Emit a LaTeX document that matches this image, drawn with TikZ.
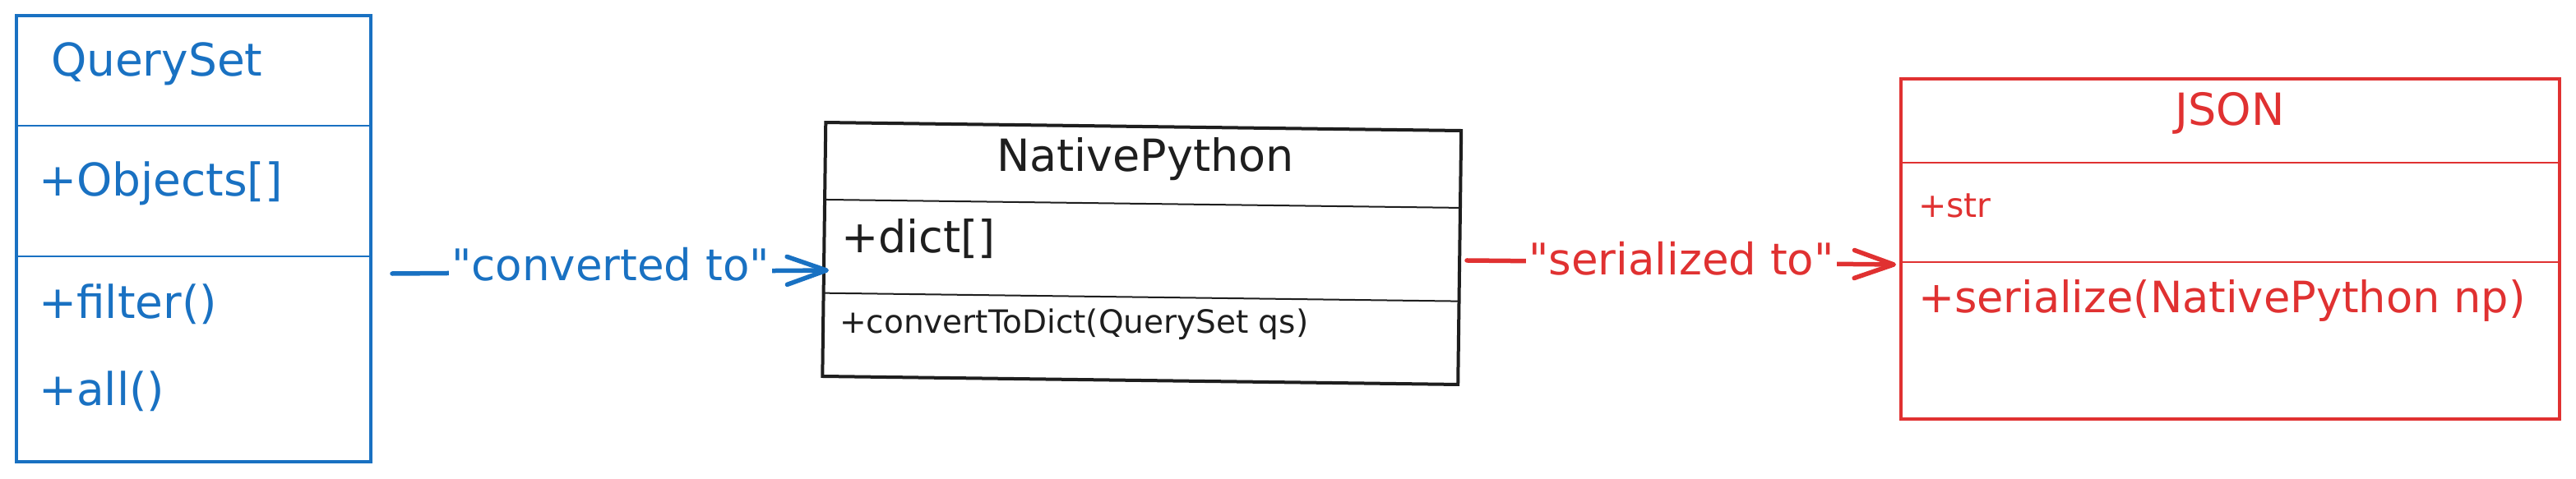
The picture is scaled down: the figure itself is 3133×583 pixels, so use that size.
\documentclass[tikz,border=0pt]{standalone}
\usepackage{fontspec}
\setmainfont{DejaVu Sans}[Ligatures=TeXOff]
\usetikzlibrary{arrows.meta,calc}
\definecolor{cblue}{HTML}{1971C2}
\definecolor{cred}{HTML}{E03131}
\definecolor{cblack}{HTML}{1E1E1E}
\tikzset{
  umlbox/.style={draw, line width=2pt, inner sep=0pt, outer sep=0pt},
  divider/.style={line width=1pt},
  txt/.style={inner sep=0pt, outer sep=0pt, anchor=base west},
  ttl/.style={inner sep=0pt, outer sep=0pt, anchor=base},
  conn/.style={line width=2.75pt, line cap=round,
    -{Straight Barb[length=24pt,width=17pt,round]}},
  lbl/.style={fill=white, inner sep=1.5pt},
  fbig/.style={font=\fontsize{27.5}{33}\selectfont},
  flbl/.style={font=\fontsize{26.5}{32}\selectfont},
  fmid/.style={font=\fontsize{27}{32}\selectfont},
  fsmall/.style={font=\fontsize{19.5}{24}\selectfont},
  fstr/.style={font=\fontsize{20.5}{25}\selectfont},
  fser/.style={font=\fontsize{26.3}{32}\selectfont},
}
\begin{document}
\begin{tikzpicture}[x=0.5pt,y=-0.5pt]
\useasboundingbox (0,0) rectangle (3133,583);
\fill[white] (0,0) rectangle (3133,583);

% ---------- QuerySet (blue) ----------
\node[umlbox, draw=cblue, minimum width=215.5pt, minimum height=271.5pt] (qs) at (235.5,290.5) {};
\draw[divider, cblue] ($(qs.north west)!0.2468!(qs.south west)$) -- ($(qs.north east)!0.2468!(qs.south east)$);
\draw[divider, cblue] ($(qs.north west)!0.5396!(qs.south west)$) -- ($(qs.north east)!0.5396!(qs.south east)$);
\node[txt, text=cblue, fbig] (qsT) at (62,93) {QuerySet};
\node[txt, text=cblue, fbig] (qsA) at (47,238) {+Objects[]};
\node[txt, text=cblue, fbig] (qsM1) at (47,387) {+filter()};
\node[txt, text=cblue, fbig] (qsM2) at (47,493) {+all()};

% ---------- NativePython (black) ----------
\node[umlbox, draw=cblack, rotate=-0.74, minimum width=386.5pt, minimum height=154.5pt] (np) at (1388.75,308.5) {};
\draw[divider, cblack] ($(np.north west)!0.304!(np.south west)$) -- ($(np.north east)!0.304!(np.south east)$);
\draw[divider, cblack] ($(np.north west)!0.672!(np.south west)$) -- ($(np.north east)!0.672!(np.south east)$);
\node[ttl, text=cblack, fmid] (npT) at (1393,208) {NativePython};
\node[txt, text=cblack, fmid] (npA) at (1023,307) {+dict[]};
\node[txt, text=cblack, fsmall] (npM) at (1021,405) {+convertToDict(QuerySet qs)};

% ---------- JSON (red) ----------
\node[umlbox, draw=cred, minimum width=400.5pt, minimum height=207pt] (js) at (2712.5,303) {};
\draw[divider, cred] ($(js.north west)!0.2464!(js.south west)$) -- ($(js.north east)!0.2464!(js.south east)$);
\draw[divider, cred] ($(js.north west)!0.5386!(js.south west)$) -- ($(js.north east)!0.5386!(js.south east)$);
\node[ttl, text=cred, fmid] (jsT) at (2712,153) {JSON};
\node[txt, text=cred, fstr] (jsA) at (2333,264) {+str};
\node[txt, text=cred, fser] (jsM) at (2333,380) {+serialize(NativePython np)};

% ---------- connectors ----------
\draw[conn, cblue] ($(qs.east)+(26,42.5)$) -- ($(np.west)+(5.7,25.5)$)
  node[lbl, midway, yshift=4.5pt, text=cblue, flbl] (l1) {"converted to"};
\draw[conn, cred] ($(np.east)+(8.8,3.5)$) -- ($(js.west)+(-6,19)$)
  node[lbl, midway, yshift=2.25pt, text=cred, flbl] (l2) {"serialized to"};
\end{tikzpicture}
\end{document}
